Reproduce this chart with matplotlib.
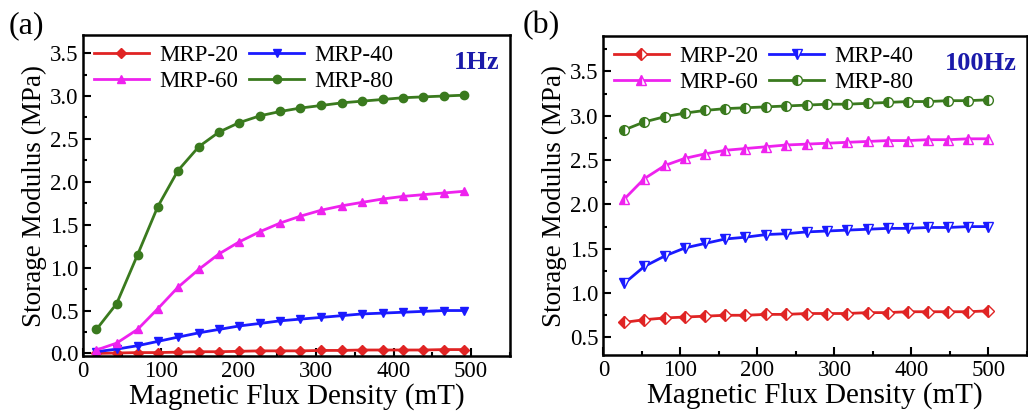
import matplotlib
matplotlib.use('Agg')
import matplotlib.pyplot as plt
from matplotlib.ticker import MultipleLocator

plt.rcParams['font.family'] = ['Liberation Serif', 'DejaVu Serif']

# panel (a): 1 Hz
field_a = [17, 43, 70, 96, 122, 149, 175, 201, 228, 254, 280, 307, 333, 359, 386, 412, 438, 465, 491]
mrp20_a = [0.0, 0.005, 0.01, 0.01, 0.015, 0.02, 0.02, 0.025, 0.03, 0.03, 0.03, 0.035, 0.035, 0.04, 0.04, 0.04, 0.04, 0.045, 0.045]
mrp40_a = [0.02, 0.05, 0.09, 0.14, 0.19, 0.24, 0.28, 0.32, 0.35, 0.38, 0.40, 0.42, 0.44, 0.46, 0.47, 0.48, 0.49, 0.50, 0.50]
mrp60_a = [0.04, 0.12, 0.28, 0.52, 0.77, 0.98, 1.16, 1.30, 1.42, 1.52, 1.60, 1.67, 1.72, 1.76, 1.80, 1.83, 1.85, 1.87, 1.89]
mrp80_a = [0.28, 0.58, 1.15, 1.71, 2.13, 2.41, 2.58, 2.69, 2.77, 2.82, 2.86, 2.89, 2.92, 2.94, 2.96, 2.98, 2.99, 3.00, 3.01]

# panel (b): 100 Hz
field_b = [27, 53, 80, 106, 132, 158, 184, 211, 237, 264, 290, 316, 343, 369, 395, 422, 448, 474, 500]
mrp20_b = [0.67, 0.70, 0.72, 0.73, 0.74, 0.75, 0.75, 0.76, 0.76, 0.77, 0.77, 0.77, 0.78, 0.78, 0.79, 0.79, 0.79, 0.79, 0.80]
mrp40_b = [1.11, 1.30, 1.42, 1.51, 1.56, 1.61, 1.63, 1.66, 1.67, 1.69, 1.70, 1.71, 1.72, 1.73, 1.73, 1.74, 1.74, 1.75, 1.75]
mrp60_b = [2.06, 2.29, 2.44, 2.52, 2.57, 2.61, 2.63, 2.65, 2.67, 2.68, 2.69, 2.70, 2.71, 2.72, 2.72, 2.73, 2.73, 2.74, 2.74]
mrp80_b = [2.84, 2.93, 2.99, 3.03, 3.06, 3.08, 3.09, 3.10, 3.11, 3.12, 3.13, 3.13, 3.14, 3.15, 3.16, 3.16, 3.17, 3.17, 3.18]

labels = ['MRP-20', 'MRP-40', 'MRP-60', 'MRP-80']
colors = ['#e02424', '#1a1aff', '#ee22ee', '#3a7a1e']
markers = ['D', 'v', '^', 'o']


def style_axes(ax, ylim, ymajor, title_text):
    ax.set_xlim(0, 550)
    ax.set_ylim(*ylim)
    ax.xaxis.set_minor_locator(MultipleLocator(50))
    ax.yaxis.set_minor_locator(MultipleLocator(0.25))
    ax.set_xticks([0, 100, 200, 300, 400, 500])
    ax.set_yticks(ymajor)
    ax.tick_params(which='both', direction='in', top=False, right=False, labelsize=16.5, width=1.5)
    ax.tick_params(which='major', length=6)
    ax.tick_params(which='minor', length=3)
    for s in ax.spines.values():
        s.set_linewidth(1.8)
    ax.set_xlabel('Magnetic Flux Density (mT)', fontsize=21, labelpad=1)
    ax.set_ylabel('Storage Modulus (MPa)', fontsize=19.5, labelpad=2)
    # row-wise legend order: 20, 40 / 60, 80
    h, l = ax.get_legend_handles_labels()
    order = [0, 2, 1, 3]
    ax.legend([h[i] for i in order], [l[i] for i in order], loc='upper left', ncol=2,
              frameon=False, fontsize=16.5, handlelength=2.4, columnspacing=0.5,
              handletextpad=0.45, labelspacing=0.2, borderaxespad=0.05)
    ax.text(0.975, 0.915, title_text, transform=ax.transAxes, ha='right', va='center',
            fontsize=19, fontweight='bold', color='#1a1aaa')


fig = plt.figure(figsize=(10.28, 4.13), dpi=100)
ax1 = fig.add_axes([0.081, 0.138, 0.415, 0.777])
ax2 = fig.add_axes([0.587, 0.140, 0.412, 0.773])

for ys, lab, c, m in zip([mrp20_a, mrp40_a, mrp60_a, mrp80_a], labels, colors, markers):
    ax1.plot(field_a, ys, color=c, marker=m, ms=6 if m != 'D' else 5, lw=2, label=lab)
style_axes(ax1, (-0.03, 3.71), [0, 0.5, 1.0, 1.5, 2.0, 2.5, 3.0, 3.5], '1Hz')

for ys, lab, c, m in zip([mrp20_b, mrp40_b, mrp60_b, mrp80_b], labels, colors, markers):
    ax2.plot(field_b, ys, color=c, marker=m, ms=7 if m != 'D' else 6, lw=2, label=lab,
             fillstyle='left', markerfacecoloralt='white', markeredgewidth=1)
style_axes(ax2, (0.3, 3.9), [0.5, 1.0, 1.5, 2.0, 2.5, 3.0, 3.5], '100Hz')

fig.text(0.008, 0.92, '(a)', fontsize=23)
fig.text(0.508, 0.92, '(b)', fontsize=23)

fig.savefig('out.png', dpi=100)
